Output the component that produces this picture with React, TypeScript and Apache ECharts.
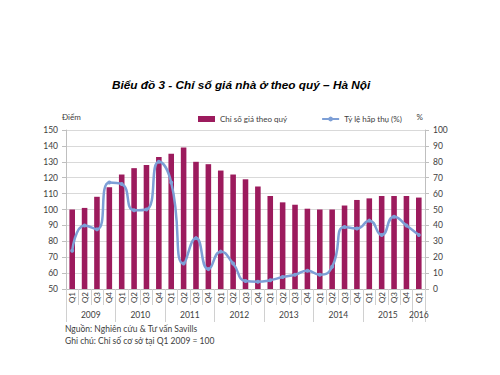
import React, { useEffect, useRef } from "react";
import * as echarts from "echarts";

const quarters = [
  "Q1", "Q2", "Q3", "Q4",
  "Q1", "Q2", "Q3", "Q4",
  "Q1", "Q2", "Q3", "Q4",
  "Q1", "Q2", "Q3", "Q4",
  "Q1", "Q2", "Q3", "Q4",
  "Q1", "Q2", "Q3", "Q4",
  "Q1", "Q2", "Q3", "Q4",
  "Q1",
];
const years = ["2009", "2010", "2011", "2012", "2013", "2014", "2015", "2016"];
const priceIndex = [
  100, 101, 108, 114, 122, 126, 128, 133, 135, 139, 130, 128.5, 124.5, 122, 119,
  114.5, 108.5, 104.5, 103, 100.5, 100, 100, 102.5, 106, 107, 108.5, 108.5, 108.5, 107.5,
];
const absorption = [
  24, 40, 37.5, 67, 66, 49.5, 50, 80, 67, 16, 32, 12.5, 23.5, 16, 5, 4.5, 5.5, 7.5,
  9, 11.5, 9, 14, 39, 38, 43, 34, 45.5, 40, 34,
];
const leftTicks = { min: 50, max: 150, interval: 10 };
const rightTicks = { min: 0, max: 100, interval: 10 };

const BAR = "#9c1b5d";
const LINE = "#7d9fd6";
const TXT = "#404040";
const FONT = "Lato";

export default function App() {
  const ref = useRef<HTMLDivElement>(null);
  useEffect(() => {
    if (!ref.current) return;
    const chart = echarts.init(ref.current, null, { renderer: "svg" });
    const yearLabel = (idx: number) => {
      if (idx === quarters.length - 1) return "{e|" + years[years.length - 1] + "}";
      if (idx % 4 === 1) return "{s|" + years[Math.floor(idx / 4)] + "}";
      return "";
    };
    chart.setOption({
      animation: false,
      backgroundColor: "#ffffff",
      textStyle: { fontFamily: FONT },
      title: {
        text: "Biểu đồ 3 - Chỉ số giá nhà ở theo quý – Hà Nội",
        left: 107,
        top: 74,
        textStyle: {
          fontFamily: "Liberation Sans",
          fontStyle: "italic",
          fontWeight: "bold",
          fontSize: 11.8,
          color: "#000",
        },
      },
      legend: {
        left: 193,
        top: 110,
        itemGap: 34,
        itemWidth: 17,
        itemHeight: 6,
        textStyle: { fontFamily: FONT, fontSize: 8, color: TXT },
        data: [
          { name: "Chỉ số giá theo quý", icon: "rect" },
          { name: "Tỷ lệ hấp thụ (%)" },
        ],
      },
      grid: { left: 66, right: 75, top: 130, bottom: 86 },
      xAxis: [
        {
          type: "category",
          data: quarters,
          axisLine: { lineStyle: { color: "#bfbfbf" } },
          axisTick: { show: true, length: 16, lineStyle: { color: "#d0d0d0" } },
          axisLabel: {
            interval: 0,
            rotate: 90,
            fontSize: 8,
            color: TXT,
            margin: 3,
            fontFamily: FONT,
          },
        },
        {
          type: "category",
          data: quarters,
          position: "bottom",
          axisLine: { show: false },
          axisTick: {
            show: true,
            length: 33,
            interval: (i: number) => i % 4 === 0,
            lineStyle: { color: "#d0d0d0" },
          },
          axisLabel: {
            interval: 0,
            margin: 21,
            fontSize: 8.5,
            color: TXT,
            fontFamily: FONT,
            formatter: (_v: string, idx: number) => yearLabel(idx),
            rich: {
              s: { padding: [0, 0, 0, 12.4], fontSize: 8.5, color: TXT, fontFamily: FONT },
              e: { fontSize: 8.5, color: TXT, fontFamily: FONT },
            },
          },
        },
      ],
      yAxis: [
        {
          type: "value",
          name: "Điểm",
          nameLocation: "end",
          nameGap: 9,
          nameTextStyle: { fontSize: 8, color: TXT, align: "left", padding: [0, 0, 0, -4] },
          min: leftTicks.min,
          max: leftTicks.max,
          interval: leftTicks.interval,
          axisLine: { show: true, lineStyle: { color: "#bfbfbf" } },
          axisTick: { show: true, length: 4, lineStyle: { color: "#bfbfbf" } },
          axisLabel: { fontSize: 8.5, color: TXT, margin: 8, fontFamily: FONT },
          splitLine: { lineStyle: { color: "#d9d9d9" } },
        },
        {
          type: "value",
          name: "%",
          nameLocation: "end",
          nameGap: 9,
          nameTextStyle: { fontSize: 8, color: TXT, align: "right", padding: [0, 2, 0, 0] },
          min: rightTicks.min,
          max: rightTicks.max,
          interval: rightTicks.interval,
          axisLine: { show: true, lineStyle: { color: "#bfbfbf" } },
          axisTick: { show: true, length: 4, lineStyle: { color: "#bfbfbf" } },
          axisLabel: { fontSize: 8.5, color: TXT, margin: 8, fontFamily: FONT },
          splitLine: { show: false },
        },
      ],
      series: [
        {
          name: "Chỉ số giá theo quý",
          type: "bar",
          xAxisIndex: 0,
          yAxisIndex: 0,
          data: priceIndex,
          barWidth: "45%",
          itemStyle: { color: BAR },
        },
        {
          name: "Tỷ lệ hấp thụ (%)",
          type: "line",
          xAxisIndex: 0,
          yAxisIndex: 1,
          data: absorption,
          smooth: 0.55,
          symbol: "circle",
          symbolSize: 4,
          lineStyle: { color: LINE, width: 2.5 },
          itemStyle: { color: LINE },
        },
      ],
      graphic: [
        {
          type: "text",
          left: 65,
          top: 324,
          style: {
            text: "Nguồn: Nghiên cứu & Tư vấn Savills",
            fontSize: 8.5,
            fill: TXT,
            fontFamily: FONT,
          },
        },
        {
          type: "text",
          left: 65,
          top: 336,
          style: {
            text: "Ghi chú: Chỉ số cơ sở tại Q1 2009 = 100",
            fontSize: 8.5,
            fill: TXT,
            fontFamily: FONT,
          },
        },
      ],
    });
    return () => chart.dispose();
  }, []);
  return (
    <div
      ref={ref}
      style={{ position: "absolute", left: 0, top: 0, width: 500, height: 375 }}
    />
  );
}
